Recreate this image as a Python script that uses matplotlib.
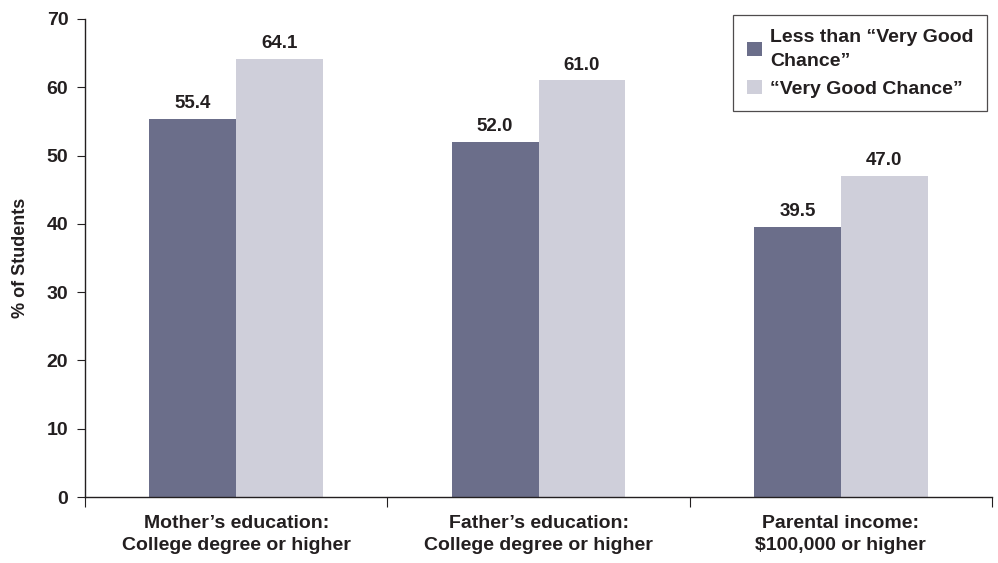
import matplotlib
matplotlib.use("Agg")
import matplotlib.pyplot as plt
import numpy as np

categories = ["Mother\u2019s education:\nCollege degree or higher",
              "Father\u2019s education:\nCollege degree or higher",
              "Parental income:\n$100,000 or higher"]
less_than = [55.4, 52.0, 39.5]
very_good = [64.1, 61.0, 47.0]
series_names = ["Less than \u201cVery Good\nChance\u201d", "\u201cVery Good Chance\u201d"]
colors = ["#6b6e8a", "#cfcfda"]

plt.rcParams['font.family'] = ['Liberation Sans', 'DejaVu Sans']
plt.rcParams['font.weight'] = 'bold'

fig = plt.figure(figsize=(9.98, 5.63), dpi=100)
ax = fig.add_axes([0.0852, 0.1172, 0.9088, 0.8491])

x = np.arange(len(categories))
w = 0.287
b1 = ax.bar(x - w / 2, less_than, w, color=colors[0], label=series_names[0])
b2 = ax.bar(x + w / 2, very_good, w, color=colors[1], label=series_names[1])

for bars, vals in [(b1, less_than), (b2, very_good)]:
    for r, v in zip(bars, vals):
        ax.text(r.get_x() + r.get_width() / 2, v + 1.0, f"{v:.1f}",
                ha='center', va='bottom', fontsize=13.5, fontweight='bold', color='#231f20')

ax.set_xlim(-0.5, 2.5)
ax.set_ylim(0, 70)
ax.set_yticks(range(0, 71, 10))
ax.set_ylabel("% of Students", fontsize=13, fontweight='bold', color='#231f20', labelpad=13)

ax.set_xticks([-0.5, 0.5, 1.5, 2.5])
ax.set_xticklabels([])
ax.tick_params(axis='x', length=7, color='#231f20', direction='out')
for xi, lab in zip(x, categories):
    ax.text(xi, -2.6, lab, ha='center', va='top', fontsize=14, fontweight='bold',
            color='#231f20', linespacing=1.38)
ax.tick_params(axis='y', length=6, labelsize=14, colors='#231f20', pad=6)
for t in ax.get_yticklabels():
    t.set_fontweight('bold')

for s in ['top', 'right']:
    ax.spines[s].set_visible(False)
for s in ['left', 'bottom']:
    ax.spines[s].set_color('#231f20')
    ax.spines[s].set_linewidth(1.0)

leg = ax.legend(loc='upper right', bbox_to_anchor=(0.9945, 1.008), fontsize=14,
                frameon=True, fancybox=False, edgecolor='#231f20',
                handlelength=0.8, handleheight=0.75, handletextpad=0.4,
                borderpad=0.7, labelspacing=0.5, borderaxespad=0)
leg.get_frame().set_linewidth(0.9)
for t in leg.get_texts():
    t.set_color('#231f20')
    t.set_linespacing(1.55)

fig.savefig("out.png", dpi=100)
